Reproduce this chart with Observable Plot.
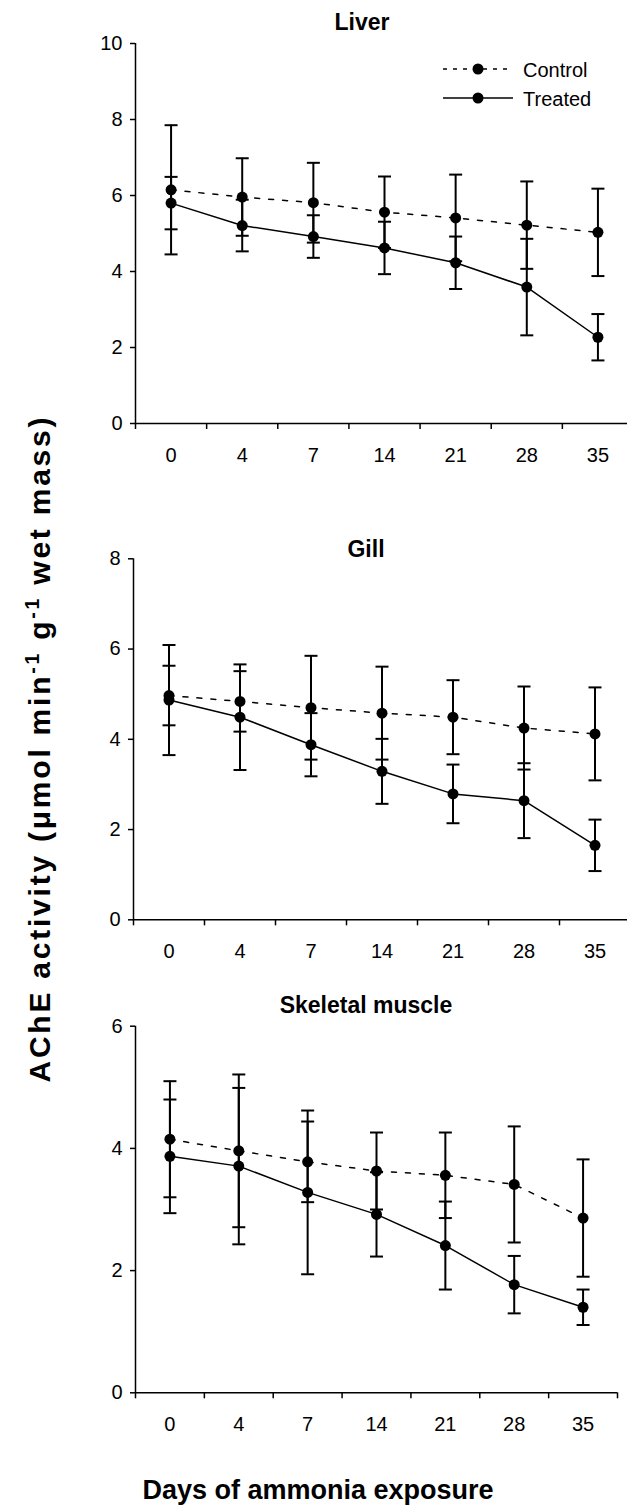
<!DOCTYPE html>
<html><head><meta charset="utf-8">
<script src="https://cdn.jsdelivr.net/npm/d3@7"></script>
<script src="https://cdn.jsdelivr.net/npm/@observablehq/plot@0.6"></script>
<style>
html,body{margin:0;padding:0;background:#fff;overflow:hidden}
#root{position:relative;width:627px;height:1505px;font-family:"Liberation Sans",Arial,sans-serif;}
#root svg{position:absolute;left:0}
</style></head><body><div id="root"></div>
<script>
const days = ["0","4","7","14","21","28","35"];

const liverControl    = [6.15, 5.96, 5.81, 5.56, 5.41, 5.22, 5.03];
const liverControlErr = [1.70, 1.02, 1.05, 0.94, 1.14, 1.15, 1.15];
const liverTreated    = [5.80, 5.21, 4.92, 4.62, 4.23, 3.59, 2.27];
const liverTreatedErr = [0.69, 0.68, 0.56, 0.69, 0.69, 1.27, 0.61];

const gillControl    = [4.97, 4.84, 4.70, 4.58, 4.49, 4.25, 4.12];
const gillControlErr = [0.66, 0.67, 1.15, 1.03, 0.82, 0.92, 1.03];
const gillTreated    = [4.87, 4.49, 3.88, 3.29, 2.79, 2.64, 1.65];
const gillTreatedErr = [1.22, 1.17, 0.70, 0.72, 0.65, 0.83, 0.57];

const muscleControl    = [4.15, 3.96, 3.78, 3.63, 3.56, 3.41, 2.86];
const muscleControlErr = [0.95, 1.25, 0.66, 0.63, 0.70, 0.95, 0.96];
const muscleTreated    = [3.87, 3.71, 3.28, 2.92, 2.41, 1.77, 1.40];
const muscleTreatedErr = [0.93, 1.28, 1.34, 0.69, 0.72, 0.47, 0.29];

const titles = ["Liver", "Gill", "Skeletal muscle"];
const yMaxes = [10, 8, 6];
const seriesNames = ["Control", "Treated"];
const yLabel = "AChE activity";
const xLabel = "Days of ammonia exposure";

const FONT = "'Liberation Sans', Arial, sans-serif";
const cap = {draw(ctx, size) { const r = Math.sqrt(size / Math.PI); ctx.moveTo(-r, 0); ctx.lineTo(r, 0); }};

function panel(cfg) {
  const rows = [];
  days.forEach((d, i) => {
    rows.push({i, day: d, group: seriesNames[0], v: cfg.control[i], e: cfg.controlErr[i]});
    rows.push({i, day: d, group: seriesNames[1], v: cfg.treated[i], e: cfg.treatedErr[i]});
  });
  const X = d => d.i + 0.5;
  const boundaries = d3.range(days.length + 1);
  const centers = days.map((_, i) => i + 0.5);
  const svg = Plot.plot({
    width: 627, height: cfg.height,
    marginLeft: cfg.ml, marginRight: cfg.mr, marginTop: cfg.mt, marginBottom: cfg.mb,
    x: {domain: [0, days.length], range: cfg.xRange},
    y: {domain: [0, cfg.yMax]},
    style: {fontFamily: FONT, fontSize: "20px", color: "black", background: "transparent"},
    marks: [
      Plot.axisY({ticks: d3.range(0, cfg.yMax + 1, 2), tickSize: 5, tickPadding: 8, tickFormat: d3.format("d"), label: null, strokeWidth: 1.5}),
      Plot.axisX({ticks: boundaries, tickSize: 6, tickFormat: () => "", label: null, strokeWidth: 1.5}),
      Plot.axisX({ticks: centers, tickSize: 0, tickPadding: 24, tickFormat: t => days[Math.floor(t)], label: null}),
      Plot.ruleX([0], {strokeWidth: 1.5}),
      Plot.ruleY([0], {strokeWidth: 1.5}),
      Plot.line(rows.filter(r => r.group === "Control"), {x: X, y: "v", strokeWidth: 1.5, strokeDasharray: "5,9"}),
      Plot.line(rows.filter(r => r.group === "Treated"), {x: X, y: "v", strokeWidth: 1.5}),
      Plot.ruleX(rows, {x: X, y1: d => d.v - d.e, y2: d => d.v + d.e, strokeWidth: 2}),
      Plot.dot(rows, {x: X, y: d => d.v + d.e, symbol: cap, r: 6.5, stroke: "black", strokeWidth: 2}),
      Plot.dot(rows, {x: X, y: d => d.v - d.e, symbol: cap, r: 6.5, stroke: "black", strokeWidth: 2}),
      Plot.dot(rows, {x: X, y: "v", r: 5.5, fill: "black"})
    ]
  });
  svg.style.top = cfg.top + "px";
  return svg;
}

const root = document.getElementById("root");
root.appendChild(panel({top: 0, height: 470, ml: 135, mr: 0, mt: 43, mb: 47, xRange: [135, 633], yMax: yMaxes[0],
  control: liverControl, controlErr: liverControlErr, treated: liverTreated, treatedErr: liverTreatedErr}));
root.appendChild(panel({top: 470, height: 495, ml: 133, mr: 0, mt: 88.3, mb: 45.7, xRange: [133, 630], yMax: yMaxes[1],
  control: gillControl, controlErr: gillControlErr, treated: gillTreated, treatedErr: gillTreatedErr}));
root.appendChild(panel({top: 965, height: 475, ml: 135, mr: 10, mt: 60.7, mb: 47.7, xRange: [135, 617], yMax: yMaxes[2],
  control: muscleControl, controlErr: muscleControlErr, treated: muscleTreated, treatedErr: muscleTreatedErr}));

// overlay: titles, legend, axis labels
const ov = d3.select(root).append("svg").attr("width", 627).attr("height", 1505)
  .style("top", "0px").style("pointer-events", "none").style("font-family", FONT);
const titlePos = [[362, 30], [366, 557], [366, 1013]];
titles.forEach((t, k) => ov.append("text").attr("x", titlePos[k][0]).attr("y", titlePos[k][1])
  .attr("text-anchor", "middle").attr("font-weight", "bold").attr("font-size", 23).text(t));

// legend
const leg = ov.append("g");
seriesNames.forEach((name, k) => {
  const yy = 69 + k * 29;
  leg.append("line").attr("x1", 443).attr("x2", 513).attr("y1", yy).attr("y2", yy)
    .attr("stroke", "black").attr("stroke-width", 1.5).attr("stroke-dasharray", k === 0 ? "4,6" : null);
  leg.append("circle").attr("cx", 478).attr("cy", yy).attr("r", 5.5).attr("fill", "black");
  leg.append("text").attr("x", 523).attr("y", yy + 7.5).attr("font-size", 20).text(name);
});

// y label
const yl = ov.append("text").attr("transform", "translate(50,750) rotate(-90)")
  .attr("text-anchor", "middle").attr("font-weight", "bold").attr("font-size", 30)
  .attr("textLength", 665).attr("lengthAdjust", "spacing");
yl.append("tspan").text(yLabel + " (\u03bcmol min");
yl.append("tspan").attr("baseline-shift", "super").attr("font-size", "65%").text("-1");
yl.append("tspan").text("  g");
yl.append("tspan").attr("baseline-shift", "super").attr("font-size", "65%").text("-1");
yl.append("tspan").text("  wet mass)");

// x label
ov.append("text").attr("x", 318).attr("y", 1499).attr("text-anchor", "middle")
  .attr("font-weight", "bold").attr("font-size", 27).text(xLabel);
</script></body></html>
